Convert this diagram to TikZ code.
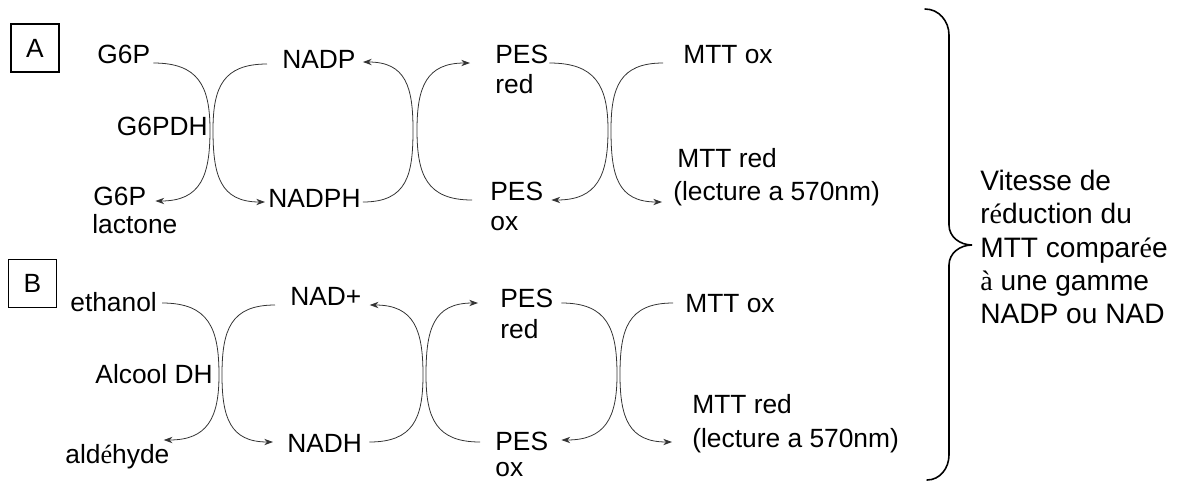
\documentclass[tikz,border=0pt]{standalone}
\usepackage{fontspec}
\setmainfont{Liberation Sans}
\newfontfamily\serfont{Liberation Serif}
\newcommand{\ser}[1]{{\serfont #1}}
\usetikzlibrary{arrows.meta,calc}

\tikzset{
  lbl/.style={font=\fontsize{15}{18}\selectfont, inner sep=0pt},
  labbox/.style={draw, line width=0.6pt, inner sep=0pt, minimum size=0.96cm, font=\fontsize{15}{18}\selectfont},
  flow/.style={line width=0.45pt, draw=black!80, -{Stealth[length=5pt,width=3.6pt]}},
  brace/.style={line width=0.9pt, line cap=round},
}

\begin{document}
\begin{tikzpicture}[x=0.02cm, y=0.02cm]
        \useasboundingbox (0,0) rectangle (1186,-481);

        % panel A
        \node[labbox] (boxA) at (35,-48) {A};
        \node[lbl, anchor=base west] (g6pA) at (97,-63) {G6P};
        \node[lbl, anchor=base west] (lactA) at (93,-205) {G6P};
        \node[lbl, anchor=base west] (lactA2) at (92,-233) {lactone};
        \node[lbl, anchor=base east] (g6pdhA) at (208,-135) {G6PDH};
        \node[lbl, anchor=base west] (nadpA) at (282,-68) {NADP};
        \node[lbl, anchor=base west] (nadphA) at (268,-207) {NADPH};
        \node[lbl, anchor=base west] (pesredA) at (495,-63) {PES};
        \node[lbl, anchor=base west] (redA) at (495,-93) {red};
        \node[lbl, anchor=base west] (pesoxA) at (490,-200) {PES};
        \node[lbl, anchor=base west] (oxA) at (490,-230) {ox};
        \node[lbl, anchor=base west] (mttoxA) at (683,-63) {MTT ox};
        \node[lbl, anchor=base west] (mttredA) at (677,-167) {MTT red};
        \node[lbl, anchor=base west] (lecA) at (673,-200) {(lecture a 570nm)};

        \draw[flow] ($(g6pA.base east)+(3,0)$) to[out=0,in=90,looseness=1.3] (210,-130)
            to[out=-90,in=0,looseness=1.3] ($(lactA.base east)+(9,4)$);
        \draw[flow] ($(nadpA.base west)+(-15,4)$) to[out=180,in=90,looseness=1.3] (213,-130)
            to[out=-90,in=180,looseness=1.3] ($(nadphA.base west)+(-3,5)$);
        \draw[flow] ($(nadphA.base east)+(2,5)$) to[out=0,in=-90,looseness=1.3] (413,-130)
            to[out=90,in=0,looseness=1.3] ($(nadpA.base east)+(7,6)$);
        \draw[flow] ($(pesoxA.base west)+(-18,0)$) to[out=180,in=-90,looseness=1.3] (417,-130)
            to[out=90,in=180,looseness=1.3] ($(pesredA.base west)+(-25,0)$);
        \draw[flow] ($(pesredA.base east)+(1,0)$) to[out=0,in=90,looseness=1.3] (608,-130)
            to[out=-90,in=0,looseness=1.3] ($(pesoxA.base east)+(8,0)$);
        \draw[flow] ($(mttoxA.base west)+(-20,0)$) to[out=180,in=90,looseness=1.3] (611,-130)
            to[out=-90,in=180,looseness=1.3] ($(lecA.base west)+(-11,-2)$);

        % panel B
        \node[labbox] (boxB) at (32.5,-283.5) {B};
        \node[lbl, anchor=base west] (ethB) at (70,-311) {ethanol};
        \node[lbl, anchor=base west] (aldB) at (65,-463) {ald\ser{é}hyde};
        \node[lbl, anchor=base east] (alcB) at (213,-383) {Alcool DH};
        \node[lbl, anchor=base west] (nadB) at (290,-305) {NAD+};
        \node[lbl, anchor=base west] (nadhB) at (287,-452) {NADH};
        \node[lbl, anchor=base west] (pesredB) at (500,-307) {PES};
        \node[lbl, anchor=base west] (redB) at (500,-338) {red};
        \node[lbl, anchor=base west] (pesoxB) at (495,-450) {PES};
        \node[lbl, anchor=base west] (oxB) at (495,-476) {ox};
        \node[lbl, anchor=base west] (mttoxB) at (685,-312) {MTT ox};
        \node[lbl, anchor=base west] (mttredB) at (692,-413) {MTT red};
        \node[lbl, anchor=base west] (lecB) at (692,-447) {(lecture a 570nm)};

        \draw[flow] ($(ethB.base east)+(5,8)$) to[out=0,in=90,looseness=1.3] (219,-375)
            to[out=-90,in=0,looseness=1.3] ($(aldB.base east)+(-6,23)$);
        \draw[flow] ($(nadB.base west)+(-15,0)$) to[out=180,in=90,looseness=1.3] (222,-375)
            to[out=-90,in=180,looseness=1.3] ($(nadhB.base west)+(-14,10)$);
        \draw[flow] ($(nadhB.base east)+(7,10)$) to[out=0,in=-90,looseness=1.3] (423,-375)
            to[out=90,in=0,looseness=1.3] ($(nadB.base east)+(8,0)$);
        \draw[flow] ($(pesoxB.base west)+(-15,8)$) to[out=180,in=-90,looseness=1.3] (426,-375)
            to[out=90,in=180,looseness=1.3] ($(pesredB.base west)+(-22,4)$);
        \draw[flow] ($(pesredB.base east)+(8,4)$) to[out=0,in=90,looseness=1.3] (617,-375)
            to[out=-90,in=0,looseness=1.3] ($(pesoxB.base east)+(13,10)$);
        \draw[flow] ($(mttoxB.base west)+(-12,9)$) to[out=180,in=90,looseness=1.3] (620,-375)
            to[out=-90,in=180,looseness=1.3] ($(lecB.base west)+(-20,5)$);

        % brace and result
        \draw[brace] (925,-9) to[out=0,in=90] (949,-35) -- (949,-225)
            to[out=-90,in=180] (972,-245) to[out=180,in=90] (949,-265) -- (949,-455)
            to[out=-90,in=0] (927,-480);
        \node[font=\fontsize{16}{19}\selectfont, inner sep=0pt, anchor=west, align=left] (rate) at (980,-247)
            {Vitesse de\\r\ser{é}duction du\\MTT compar\ser{é}e\\\ser{à} une gamme\\NADP ou NAD};
\end{tikzpicture}
\end{document}
